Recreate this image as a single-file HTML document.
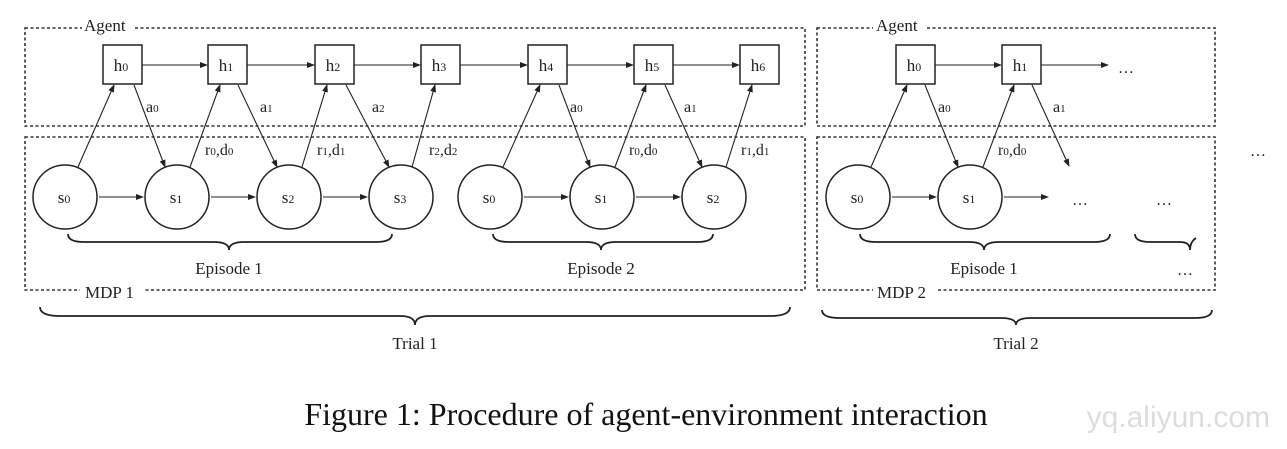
<!DOCTYPE html>
<html><head><meta charset="utf-8"><style>
html,body{margin:0;padding:0;background:#fff;}
svg{display:block;font-family:"Liberation Serif",serif;}
</style></head><body>
<svg width="1287" height="449" viewBox="0 0 1287 449" xmlns="http://www.w3.org/2000/svg">
<defs><marker id="ar" markerWidth="8" markerHeight="6" refX="7" refY="3" orient="auto" markerUnits="userSpaceOnUse"><path d="M0,0 L8,3 L0,6 z" fill="#222"/></marker></defs>
<g fill="none" stroke="#333" stroke-width="1.6" stroke-dasharray="3,2.5">
<rect x="25" y="28" width="780" height="98"/>
<rect x="25" y="137" width="780" height="153"/>
<rect x="817" y="28" width="398" height="98"/>
<rect x="817" y="137" width="398" height="153"/>
</g>
<g font-size="17" fill="#222">
<rect x="82" y="16" width="52" height="18" fill="#fff"/><text x="84" y="31">Agent</text>
<rect x="80" y="282" width="64" height="18" fill="#fff"/><text x="85" y="298">MDP 1</text>
<rect x="873" y="16" width="52" height="18" fill="#fff"/><text x="876" y="31">Agent</text>
<rect x="873" y="282" width="64" height="18" fill="#fff"/><text x="877" y="298">MDP 2</text>
</g>
<g fill="#fff" stroke="#222" stroke-width="1.5">
<rect x="103" y="45" width="39" height="39"/><rect x="208" y="45" width="39" height="39"/><rect x="315" y="45" width="39" height="39"/><rect x="421" y="45" width="39" height="39"/><rect x="528" y="45" width="39" height="39"/><rect x="634" y="45" width="39" height="39"/><rect x="740" y="45" width="39" height="39"/>
<rect x="896" y="45" width="39" height="39"/><rect x="1002" y="45" width="39" height="39"/>
<circle cx="65" cy="197" r="32"/><circle cx="177" cy="197" r="32"/><circle cx="289" cy="197" r="32"/><circle cx="401" cy="197" r="32"/><circle cx="490" cy="197" r="32"/><circle cx="602" cy="197" r="32"/><circle cx="714" cy="197" r="32"/>
<circle cx="858" cy="197" r="32"/><circle cx="970" cy="197" r="32"/>
</g>
<g stroke="#222" stroke-width="1.1" marker-end="url(#ar)">
<line x1="142" y1="65" x2="207" y2="65"/><line x1="247" y1="65" x2="314" y2="65"/><line x1="354" y1="65" x2="420" y2="65"/><line x1="460" y1="65" x2="527" y2="65"/><line x1="567" y1="65" x2="633" y2="65"/><line x1="673" y1="65" x2="739" y2="65"/>
<line x1="935" y1="65" x2="1001" y2="65"/><line x1="1041" y1="65" x2="1108" y2="65"/>
<line x1="99" y1="197" x2="143" y2="197"/><line x1="211" y1="197" x2="255" y2="197"/><line x1="323" y1="197" x2="367" y2="197"/>
<line x1="524" y1="197" x2="568" y2="197"/><line x1="636" y1="197" x2="680" y2="197"/>
<line x1="892" y1="197" x2="936" y2="197"/><line x1="1004" y1="197" x2="1048" y2="197"/>
<line x1="78" y1="167" x2="114" y2="85"/><line x1="134" y1="85" x2="165" y2="167"/>
<line x1="190" y1="167" x2="220" y2="85"/><line x1="238" y1="85" x2="277" y2="167"/>
<line x1="302" y1="167" x2="327" y2="85"/><line x1="346" y1="85" x2="389" y2="167"/>
<line x1="412" y1="167" x2="435" y2="85"/>
<line x1="503" y1="167" x2="540" y2="85"/><line x1="559" y1="85" x2="590" y2="167"/>
<line x1="615" y1="167" x2="646" y2="85"/><line x1="665" y1="85" x2="702" y2="167"/>
<line x1="726" y1="167" x2="752" y2="85"/>
<line x1="871" y1="167" x2="907" y2="85"/><line x1="925" y1="85" x2="958" y2="167"/>
<line x1="983" y1="167" x2="1014" y2="85"/><line x1="1032" y1="85" x2="1069" y2="166"/>
</g>
<g font-size="17" fill="#222" text-anchor="middle">
<text x="121" y="71">h<tspan font-size="12">0</tspan></text><text x="226" y="71">h<tspan font-size="12">1</tspan></text><text x="333" y="71">h<tspan font-size="12">2</tspan></text><text x="439" y="71">h<tspan font-size="12">3</tspan></text><text x="546" y="71">h<tspan font-size="12">4</tspan></text><text x="652" y="71">h<tspan font-size="12">5</tspan></text><text x="758" y="71">h<tspan font-size="12">6</tspan></text>
<text x="914" y="71">h<tspan font-size="12">0</tspan></text><text x="1020" y="71">h<tspan font-size="12">1</tspan></text>
<text x="64" y="203">s<tspan font-size="12">0</tspan></text><text x="176" y="203">s<tspan font-size="12">1</tspan></text><text x="288" y="203">s<tspan font-size="12">2</tspan></text><text x="400" y="203">s<tspan font-size="12">3</tspan></text><text x="489" y="203">s<tspan font-size="12">0</tspan></text><text x="601" y="203">s<tspan font-size="12">1</tspan></text><text x="713" y="203">s<tspan font-size="12">2</tspan></text>
<text x="857" y="203">s<tspan font-size="12">0</tspan></text><text x="969" y="203">s<tspan font-size="12">1</tspan></text>
</g>
<g font-size="16" fill="#222">
<text x="146" y="112">a<tspan font-size="11">0</tspan></text><text x="260" y="112">a<tspan font-size="11">1</tspan></text><text x="372" y="112">a<tspan font-size="11">2</tspan></text>
<text x="570" y="112">a<tspan font-size="11">0</tspan></text><text x="684" y="112">a<tspan font-size="11">1</tspan></text>
<text x="938" y="112">a<tspan font-size="11">0</tspan></text><text x="1053" y="112">a<tspan font-size="11">1</tspan></text>
<text x="205" y="155">r<tspan font-size="11">0</tspan>,d<tspan font-size="11">0</tspan></text><text x="317" y="155">r<tspan font-size="11">1</tspan>,d<tspan font-size="11">1</tspan></text><text x="429" y="155">r<tspan font-size="11">2</tspan>,d<tspan font-size="11">2</tspan></text>
<text x="629" y="155">r<tspan font-size="11">0</tspan>,d<tspan font-size="11">0</tspan></text><text x="741" y="155">r<tspan font-size="11">1</tspan>,d<tspan font-size="11">1</tspan></text>
<text x="998" y="155">r<tspan font-size="11">0</tspan>,d<tspan font-size="11">0</tspan></text>
<text x="1118" y="73">…</text><text x="1072" y="205">…</text><text x="1156" y="205">…</text><text x="1177" y="275">…</text><text x="1250" y="156">…</text>
</g>
<g fill="none" stroke="#222" stroke-width="1.8">
<path d="M68,234 Q68,242 84,242 L214,242 Q229,242 229,250 Q229,242 244,242 L376,242 Q392,242 392,234"/>
<path d="M493,234 Q493,242 509,242 L586,242 Q601,242 601,250 Q601,242 616,242 L697,242 Q713,242 713,234"/>
<path d="M860,234 Q860,242 876,242 L969,242 Q984,242 984,250 Q984,242 999,242 L1094,242 Q1110,242 1110,234"/>
<path d="M1135,234 Q1135,242 1150,242 L1180,242 Q1190,242 1190,250 Q1190,242 1196,238"/>
<path d="M40,307 Q40,316 60,316 L400,316 Q415,316 415,325 Q415,316 430,316 L770,316 Q790,316 790,307"/>
<path d="M822,310 Q822,318 840,318 L1001,318 Q1016,318 1016,325 Q1016,318 1031,318 L1195,318 Q1212,318 1212,310"/>
</g>
<g font-size="17" fill="#222" text-anchor="middle">
<text x="229" y="274">Episode 1</text><text x="601" y="274">Episode 2</text><text x="984" y="274">Episode 1</text>
<text x="415" y="349">Trial 1</text><text x="1016" y="349">Trial 2</text>
</g>
<text x="646" y="425" font-size="32" fill="#111" text-anchor="middle">Figure 1: Procedure of agent-environment interaction</text>
<text x="1270" y="427" font-size="30" fill="#ddd" text-anchor="end" font-family="Liberation Sans,sans-serif">yq.aliyun.com</text>
</svg>
</body></html>
